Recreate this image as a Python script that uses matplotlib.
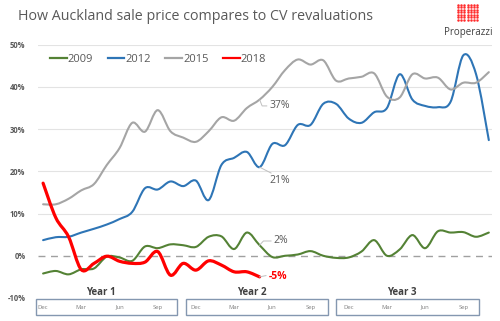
import numpy as np
import matplotlib
matplotlib.use("Agg")
import matplotlib.pyplot as plt
from matplotlib.path import Path
from matplotlib.patches import PathPatch, Rectangle
from matplotlib.lines import Line2D

plt.rcParams['font.family'] = ['Open Sans', 'DejaVu Sans']

# months since December of year 1
months = list(range(36))
s2009 = [-4.2, -3.6, -4.4, -3.2, -3.0, -0.2, -0.4, -1.2, 2.2, 1.8, 2.7, 2.5,
         2.1, 4.5, 4.6, 1.6, 5.5, 2.5, -0.3, 0.0, 0.3, 1.1, 0.0, -0.5,
         -0.4, 1.0, 3.7, 0.0, 1.5, 4.9, 1.8, 5.8, 5.5, 5.6, 4.5, 5.5]
s2012 = [3.7, 4.4, 4.5, 5.5, 6.4, 7.4, 8.7, 10.4, 16.0, 15.7, 17.6, 16.5,
         17.8, 13.2, 21.5, 23.2, 24.6, 21.0, 26.5, 26.2, 31.0, 31.0, 36.0, 36.0,
         32.5, 31.5, 34.0, 35.0, 43.0, 37.0, 35.5, 35.2, 36.5, 47.5, 43.0, 27.4]
s2015 = [12.2, 12.2, 13.5, 15.5, 17.0, 21.5, 25.5, 31.5, 29.4, 34.5, 29.5, 28.0,
         27.0, 29.5, 32.8, 32.0, 35.0, 37.0, 40.0, 44.0, 46.5, 45.3, 46.3, 41.5,
         42.0, 42.4, 43.2, 37.7, 37.5, 43.0, 42.0, 42.2, 39.4, 41.0, 41.0, 43.5]
s2018 = [17.2, 9.0, 4.5, -3.3, -1.8, -0.1, -1.3, -1.8, -1.5, 1.0, -4.6, -1.8,
         -3.4, -1.2, -2.2, -3.8, -3.8, -5.0]

series = [("2009", s2009, "#548235", 1.5),
          ("2012", s2012, "#2E75B6", 1.5),
          ("2015", s2015, "#A5A5A5", 1.5),
          ("2018", s2018, "#FF0000", 2.3)]

year_labels = ["Year 1", "Year 2", "Year 3"]
month_ticks = ["Dec", "Mar", "Jun", "Sep"]
yticks = [-10, 0, 10, 20, 30, 40, 50]


def smooth_path(x, y):
    # cubic bezier through every point, excel-style smoothed line
    x = np.asarray(x, float)
    y = np.asarray(y, float)
    n = len(x)
    verts = [(x[0], y[0])]
    codes = [Path.MOVETO]
    for i in range(n - 1):
        i0 = max(i - 1, 0)
        i3 = min(i + 2, n - 1)
        c1 = (x[i] + (x[i + 1] - x[i0]) / 6, y[i] + (y[i + 1] - y[i0]) / 6)
        c2 = (x[i + 1] - (x[i3] - x[i]) / 6, y[i + 1] - (y[i3] - y[i]) / 6)
        verts += [c1, c2, (x[i + 1], y[i + 1])]
        codes += [Path.CURVE4] * 3
    return Path(verts, codes)


fig = plt.figure(figsize=(5, 3.21), dpi=100)
ax = fig.add_axes([0.076, 0.0717, 0.908, 0.789])
ax.set_xlim(-0.4, 35.25)
ax.set_ylim(-10, 50)

for v in yticks:
    if v > 0:
        ax.axhline(v, color="#E3E3E3", lw=0.8, zorder=0)
ax.axhline(0, color="#A0A0A0", lw=1.0, ls=(0, (5, 4)), zorder=0)

for name, vals, col, lw in series:
    p = PathPatch(smooth_path(months[:len(vals)], vals), fill=False,
                  edgecolor=col, lw=lw, capstyle="round", joinstyle="round")
    ax.add_patch(p)

for sp in ax.spines.values():
    sp.set_visible(False)
ax.set_xticks([])
ax.set_yticks(yticks)
ax.set_yticklabels([f"{v}%" for v in yticks], fontsize=5.5, color="#595959",
                   fontweight="bold")
ax.tick_params(axis="y", length=0, pad=9)

# end-value callouts
lead = dict(color="#BFBFBF", lw=0.7)
ax.plot([17, 17.2, 17.6], [37.0, 35.5, 35.5], **lead, solid_capstyle="butt")
ax.text(17.75, 35.5, "37%", fontsize=7.5, color="#595959", va="center")
ax.plot([17, 17.9], [21.0, 19.6], **lead)
ax.text(17.75, 17.8, "21%", fontsize=7.5, color="#595959", va="center")
ax.plot([17, 17.3, 17.9], [2.5, 3.5, 3.5], **lead)
ax.text(18.05, 3.5, "2%", fontsize=7.5, color="#595959", va="center")
ax.plot([17, 17.5], [-5.0, -4.7], **lead)
ax.text(17.7, -4.8, "-5%", fontsize=7.5, color="#FF0000", va="center",
        fontweight="bold")

# year boxes under the axis
box_left = [-0.55, 11.23, 23.0]
box_right = [10.5, 22.39, 34.2]
for k in range(3):
    ax.add_patch(Rectangle((box_left[k], -14.05), box_right[k] - box_left[k], 3.8,
                           fill=False, edgecolor="#8497B0", lw=1.0, clip_on=False))
    ax.text((box_left[k] + box_right[k]) / 2 - 0.4, -8.7, year_labels[k],
            fontsize=7, fontweight="bold", color="#404040", ha="center",
            va="center", clip_on=False)
    for j, m in enumerate(month_ticks):
        ax.text(12 * k + 3 * j, -12.15, m, fontsize=4.2, color="#7F7F7F",
                ha="center", va="center", clip_on=False)

handles = [Line2D([], [], color=c, lw=1.6) for _, _, c, _ in series]
fig.legend(handles, [s[0] for s in series], loc="center left",
           bbox_to_anchor=(0.08, 1 - 59 / 321), ncol=4, frameon=False,
           fontsize=8, handlelength=1.5, handletextpad=0.1, columnspacing=1.3,
           labelcolor="#595959")

fig.text(0.036, 1 - 16 / 321, "How Auckland sale price compares to CV revaluations",
         fontsize=10.3, color="#595959", va="center")

# logo: dot grid with company name
gx, gy = np.meshgrid(np.linspace(458, 477, 7), np.linspace(4.5, 20, 7))
logo = fig.add_axes([0, 0, 1, 1], zorder=-1)
logo.set_xlim(0, 500)
logo.set_ylim(321, 0)
logo.axis("off")
logo.scatter(gx.ravel(), gy.ravel(), s=3.2, color="#FF2A2A", marker="o", lw=0)
fig.text(468 / 500, 1 - 33 / 321, "Properazzi", fontsize=7, color="#404040",
         ha="center", va="center")

fig.savefig("out.png", dpi=100)
